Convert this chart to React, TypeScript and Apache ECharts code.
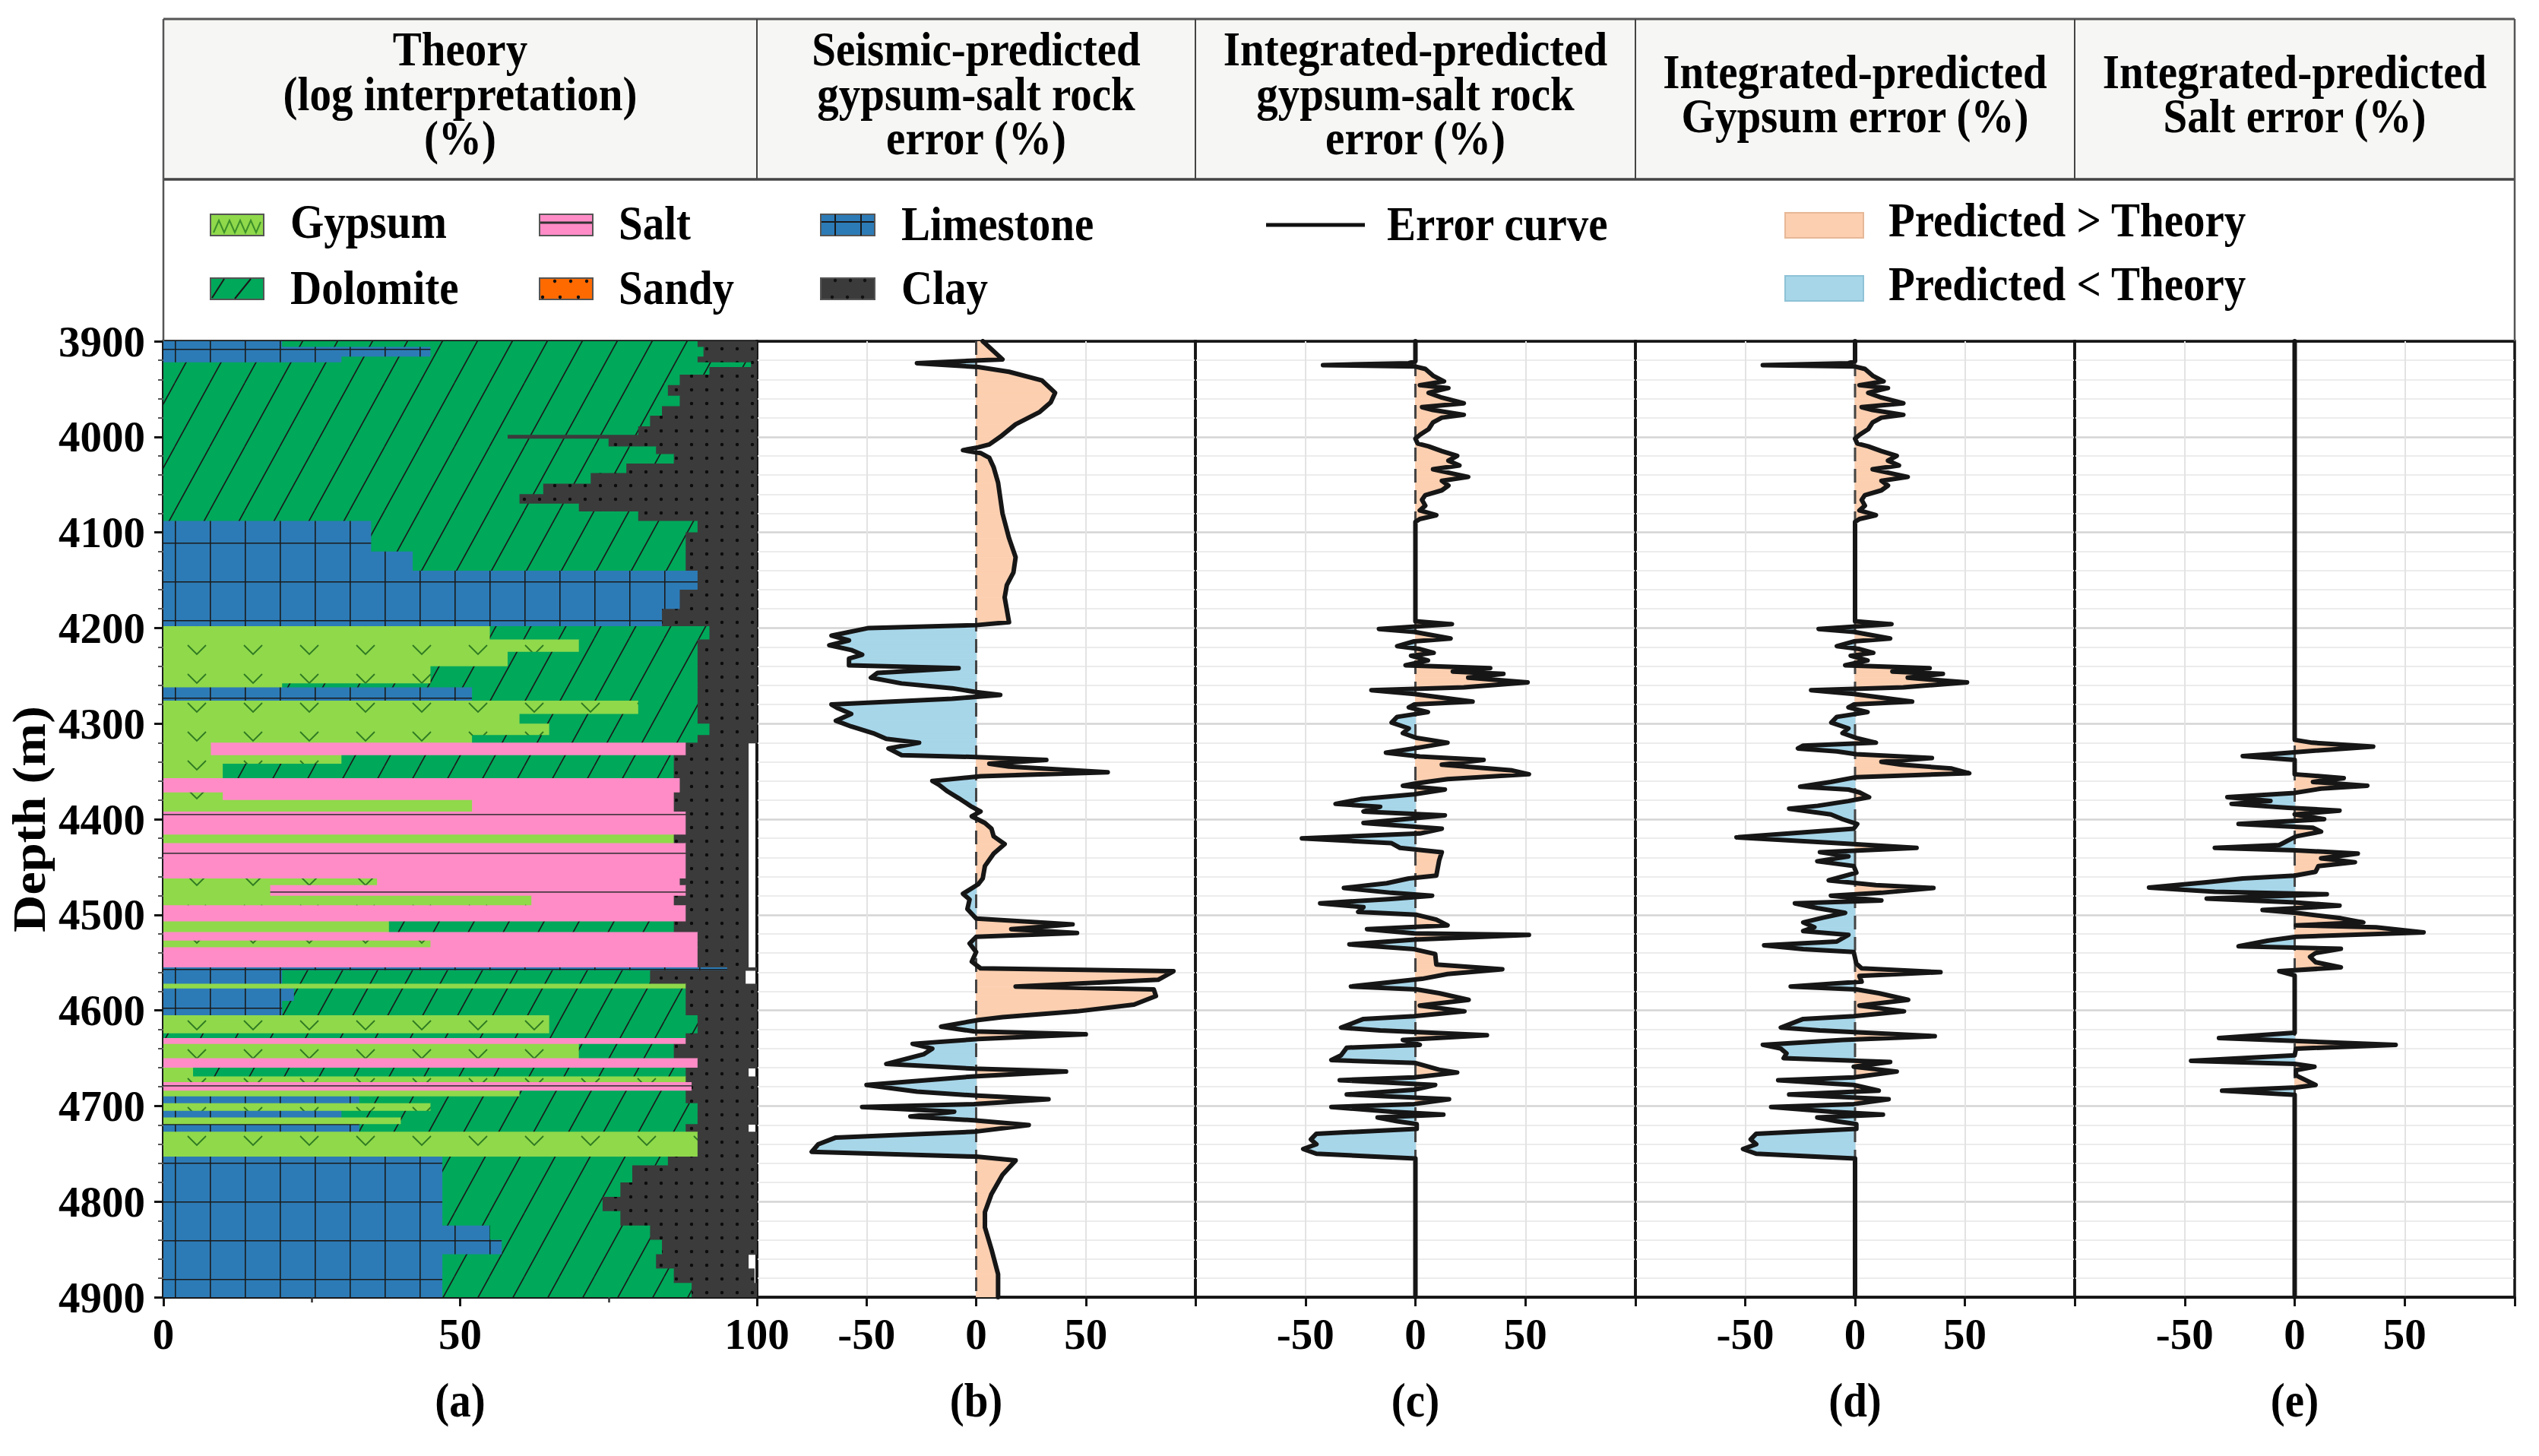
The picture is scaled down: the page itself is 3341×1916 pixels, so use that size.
import React, { useEffect, useRef } from "react";
import * as echarts from "echarts";

const FONT = "'Liberation Serif', 'Times New Roman', serif";

// ---------------- data ----------------
const depthMin = 3900;
const depthMax = 4900;
const depthStep = 100;

const lithologyNames = ["Limestone", "Gypsum", "Salt", "Dolomite", "Sandy", "Clay"];
const lithologyColors = ["#2c7bb6", "#8fd94b", "#ff8cc6", "#00a85a", "#ff6a00", "#3b3b3b"];

// [top, bottom, Limestone, Gypsum, Salt, Dolomite, Sandy, Clay]  (%)
const lithologyIntervals = [
  [3900, 3906, 20, 0, 0, 70, 0, 10],
  [3906, 3916, 45, 0, 0, 46, 0, 9],
  [3916, 3922, 30, 0, 0, 60, 0, 10],
  [3922, 3927, 0, 0, 0, 99, 0, 1],
  [3927, 3935, 0, 0, 0, 92, 0, 8],
  [3935, 3946, 0, 0, 0, 87, 0, 13],
  [3946, 3957, 0, 0, 0, 85, 0, 15],
  [3957, 3968, 0, 0, 0, 87, 0, 13],
  [3968, 3978, 0, 0, 0, 84, 0, 16],
  [3978, 3989, 0, 0, 0, 82, 0, 18],
  [3989, 3998, 0, 0, 0, 80, 0, 20],
  [3998, 4002, 0, 0, 0, 58, 0, 42],
  [4002, 4010, 0, 0, 0, 75, 0, 25],
  [4010, 4018, 0, 0, 0, 83, 0, 17],
  [4018, 4028, 0, 0, 0, 86, 0, 14],
  [4028, 4038, 0, 0, 0, 78, 0, 22],
  [4038, 4049, 0, 0, 0, 72, 0, 28],
  [4049, 4060, 0, 0, 0, 64, 0, 36],
  [4060, 4070, 0, 0, 0, 60, 0, 40],
  [4070, 4078, 0, 0, 0, 70, 0, 30],
  [4078, 4088, 0, 0, 0, 80, 0, 20],
  [4088, 4100, 35, 0, 0, 55, 0, 10],
  [4100, 4120, 35, 0, 0, 53, 0, 12],
  [4120, 4140, 42, 0, 0, 46, 0, 12],
  [4140, 4160, 90, 0, 0, 0, 0, 10],
  [4160, 4180, 87, 0, 0, 0, 0, 13],
  [4180, 4198, 84, 0, 0, 0, 0, 16],
  [4198, 4212, 0, 55, 0, 37, 0, 8],
  [4212, 4225, 0, 70, 0, 20, 0, 10],
  [4225, 4240, 0, 58, 0, 32, 0, 10],
  [4240, 4258, 0, 45, 0, 45, 0, 10],
  [4258, 4262, 0, 20, 0, 70, 0, 10],
  [4262, 4276, 52, 0, 0, 38, 0, 10],
  [4276, 4290, 0, 80, 0, 10, 0, 10],
  [4290, 4300, 0, 60, 0, 30, 0, 10],
  [4300, 4312, 0, 65, 0, 27, 0, 8],
  [4312, 4320, 0, 52, 0, 38, 0, 10],
  [4320, 4333, 0, 8, 80, 0, 0, 10.5],
  [4333, 4342, 0, 30, 0, 56, 0, 12.5],
  [4342, 4357, 0, 10, 0, 76, 0, 12.5],
  [4357, 4372, 0, 0, 87, 0, 0, 11.5],
  [4372, 4380, 0, 10, 76, 0, 0, 12.5],
  [4380, 4392, 0, 52, 34, 0, 0, 12.5],
  [4392, 4416, 0, 0, 88, 0, 0, 10.5],
  [4416, 4425, 0, 86, 0, 0, 0, 12.5],
  [4425, 4462, 0, 0, 88, 0, 0, 10.5],
  [4462, 4469, 0, 36, 51, 0, 0, 11.5],
  [4469, 4480, 0, 18, 70, 0, 0, 10.5],
  [4480, 4490, 0, 62, 24, 0, 0, 12.5],
  [4490, 4507, 0, 0, 88, 0, 0, 10.5],
  [4507, 4518, 0, 38, 0, 48, 0, 12.5],
  [4518, 4527, 0, 0, 90, 0, 0, 8.5],
  [4527, 4534, 0, 45, 45, 0, 0, 8.5],
  [4534, 4555, 0, 0, 90, 0, 0, 8.5],
  [4555, 4558, 95, 0, 0, 0, 0, 5],
  [4558, 4572, 20, 0, 0, 62, 0, 16],
  [4572, 4577, 0, 88, 0, 0, 0, 12],
  [4577, 4590, 22, 0, 0, 66, 0, 12],
  [4590, 4605, 20, 0, 0, 68, 0, 12],
  [4605, 4624, 0, 65, 0, 25, 0, 10],
  [4624, 4629, 0, 0, 0, 88, 0, 12],
  [4629, 4635, 0, 0, 88, 0, 0, 12],
  [4635, 4650, 0, 70, 0, 16, 0, 14],
  [4650, 4660, 0, 0, 90, 0, 0, 10],
  [4660, 4669, 0, 5, 0, 83, 0, 10.5],
  [4669, 4675, 0, 88, 0, 0, 0, 12],
  [4675, 4684, 0, 0, 89, 0, 0, 11],
  [4684, 4690, 0, 60, 0, 28, 0, 12],
  [4690, 4697, 33, 0, 0, 55, 0, 12],
  [4697, 4705, 0, 45, 0, 45, 0, 10],
  [4705, 4712, 30, 0, 0, 60, 0, 10],
  [4712, 4719, 0, 40, 0, 50, 0, 10],
  [4719, 4727, 33, 0, 0, 55, 0, 10.5],
  [4727, 4753, 0, 90, 0, 0, 0, 10],
  [4753, 4762, 47, 0, 0, 38, 0, 15],
  [4762, 4780, 47, 0, 0, 32, 0, 21],
  [4780, 4795, 47, 0, 0, 30, 0, 23],
  [4795, 4810, 47, 0, 0, 27, 0, 26],
  [4810, 4825, 47, 0, 0, 30, 0, 23],
  [4825, 4840, 55, 0, 0, 27, 0, 18],
  [4840, 4855, 57, 0, 0, 27, 0, 16],
  [4855, 4870, 47, 0, 0, 36, 0, 15.5],
  [4870, 4885, 47, 0, 0, 39, 0, 13.5],
  [4885, 4900, 47, 0, 0, 42, 0, 11],
];

// [depth (m), error (%)]
const seismicError = [
  [3900, 3], [3919, 12], [3923, -27], [3927, 1], [3932, 15], [3941, 30], [3954, 36], [3964, 34],
  [3974, 29], [3987, 18], [4000, 11], [4008, 6], [4011, 1], [4014, -6], [4017, 2], [4022, 6],
  [4032, 8], [4048, 10], [4080, 12], [4106, 15], [4126, 18], [4142, 17], [4155, 14], [4168, 13],
  [4194, 15], [4197, 0], [4200, -49], [4208, -66], [4213, -58], [4218, -67], [4223, -57], [4228, -52],
  [4232, -58], [4239, -58], [4242, -8], [4247, -45], [4252, -48], [4258, -34], [4263, -11], [4267, 0],
  [4270, 11], [4274, -11], [4280, -66], [4284, -63], [4290, -57], [4297, -64], [4303, -57], [4310, -47],
  [4316, -41], [4320, -26], [4326, -40], [4333, -34], [4335, 0], [4338, 32], [4342, 6], [4345, 15],
  [4351, 60], [4355, 2], [4360, -20], [4364, -17], [4371, -13], [4378, -8], [4387, -2], [4392, 2],
  [4397, -2], [4404, 4], [4410, 7], [4418, 8], [4426, 13], [4436, 8], [4449, 4], [4462, 3],
  [4468, 1], [4478, -6], [4484, -3], [4494, -4], [4504, 0], [4510, 44], [4515, 16], [4519, 46],
  [4523, 0], [4530, -3], [4539, 0], [4549, -2], [4556, 2], [4559, 90], [4568, 83], [4575, 18],
  [4578, 81], [4585, 82], [4594, 72], [4601, 46], [4607, 12], [4610, 1], [4617, -16], [4622, -1],
  [4625, 50], [4630, 1], [4635, -29], [4640, -20], [4646, -24], [4656, -41], [4661, -1], [4664, 41],
  [4669, -1], [4678, -50], [4685, -27], [4689, -1], [4693, 33], [4698, -1], [4701, -52], [4706, -10],
  [4711, -30], [4715, -1], [4720, 24], [4727, -1], [4733, -64], [4740, -72], [4748, -75], [4753, 0],
  [4757, 18], [4772, 12], [4792, 7], [4811, 4], [4827, 4], [4850, 7], [4876, 10], [4900, 10],
];

const integratedError = [
  [3900, 0], [3921, 0], [3923, -3], [3925, -42], [3926.5, 0], [3929, 4.5], [3936, 8], [3942, 13],
  [3946, 2], [3949, 15], [3954, 6], [3959, 12], [3965, 22], [3969, 3], [3972, 8], [3977, 22],
  [3980, 12], [3985, 8], [3992, 6], [3998, 2], [4002, 0], [4007, 1], [4010, 6], [4015, 12],
  [4020, 19], [4025, 15], [4030, 20], [4034, 8], [4038, 16], [4042, 24], [4046, 12], [4051, 15],
  [4056, 12], [4061, 4.5], [4066, 3], [4072, 4.5], [4077, 2], [4082, 9.5], [4086, 2], [4089, 0],
  [4193, 0], [4196, 16.6], [4201, -16.6], [4204, -0.6], [4211, 16], [4214, -0.6], [4219, -8.3], [4222, 2],
  [4226, 8.3], [4229, -2], [4234, 5.7], [4239, -4.5], [4242, 34], [4245.5, 17], [4248, 40], [4252, 24],
  [4257, 51], [4262, 22], [4265, -20], [4269, -0.6], [4277, 26], [4280, -0.6], [4283, -3], [4288, 5.7],
  [4293, -8.3], [4299, -10.8], [4305, -3], [4310, -5.7], [4315, 0.6], [4320, 14.6], [4325, 2], [4330.5, -13.4],
  [4334.5, 2], [4338, 31], [4343, 12], [4349, 44], [4353, 51.6], [4358, 14.6], [4362.5, 0.6], [4365, -5.7],
  [4369, 13.4], [4374, -0.6], [4379, -24.8], [4384, -36.3], [4387, -16], [4392, -23.6], [4396, 13.4], [4404, -23.6],
  [4410, 12], [4415, 2], [4420, -51.6], [4425, -11], [4430, -7], [4434.5, 12], [4443, 10.8], [4459, 9.5],
  [4462, -3], [4467, -13], [4472, -32.5], [4477, -11], [4480, 7.6], [4483.5, -11], [4488, -43.3], [4492, -23.6],
  [4497, -26], [4500, 0.6], [4505, 9.5], [4511, 14.6], [4515, -22], [4519.5, -0.6], [4521, 51.6], [4526, -0.6],
  [4531, -30], [4536, -0.6], [4541, 9], [4552, 9.5], [4557, 39.5], [4562, 14.6], [4567, 3], [4575, -29.3],
  [4578, 0.6], [4582, 10.8], [4589, 24.2], [4595, 2], [4601, 22.3], [4606, -0.6], [4609, -23.6], [4618, -33.8],
  [4621, -16], [4626, 32.5], [4631, -5.7], [4636, 2], [4639, -31.2], [4647, -33.8], [4652, -38.2], [4655, 0],
  [4662, 10.8], [4665, 19], [4670, -0.6], [4673, -34.4], [4678, 9], [4683, -0.6], [4688, -31.2], [4693, 15.3],
  [4698, -0.6], [4701, -38.2], [4706, -10.8], [4709, 12.7], [4712, -17.2], [4716, -8.3], [4719, 0.6], [4724, 0.6],
  [4729, -45], [4735, -47.5], [4740, -45], [4745, -51], [4750, -45], [4755, 0], [4900, 0],
];

const gypsumError = [
  [3900, 0], [3921, 0], [3923, -3], [3925, -42], [3926.5, 0], [3929, 4.5], [3936, 8], [3942, 13],
  [3946, 2], [3949, 15], [3954, 6], [3959, 12], [3965, 22], [3969, 3], [3972, 8], [3977, 22],
  [3980, 12], [3985, 8], [3992, 6], [3998, 2], [4002, 0], [4007, 1], [4010, 6], [4015, 12],
  [4020, 19], [4025, 15], [4030, 20], [4034, 8], [4038, 16], [4042, 24], [4046, 12], [4051, 15],
  [4056, 12], [4061, 4.5], [4066, 3], [4072, 4.5], [4077, 2], [4082, 9.5], [4086, 2], [4089, 0],
  [4193, 0], [4196, 16.6], [4201, -16.6], [4204, -0.6], [4211, 16], [4214, -0.6], [4219, -8.3], [4222, 2],
  [4226, 8.3], [4229, -2], [4234, 5.7], [4239, -4.5], [4242, 34], [4245.5, 17], [4248, 40], [4252, 24],
  [4257, 51], [4262, 22], [4265, -20], [4269, -0.6], [4277, 26], [4280, -0.6], [4283, -3], [4288, 5.7],
  [4293, -8.3], [4299, -10.8], [4305, -3], [4310, -5.7], [4315, 0.6], [4320, 9.5], [4323, -23.6], [4326, -26],
  [4329, -8.3], [4332, 0.6], [4336, 35], [4340, 12], [4343, 21], [4347, 44], [4352, 52], [4356, 0.6],
  [4361, -11], [4366, -25], [4369, -3], [4372, 2], [4377, 6.4], [4381, -3], [4386, -17], [4389, -30],
  [4395, -11], [4400, -5.7], [4405, 1], [4410, -0.6], [4419, -54], [4424.7, -11], [4430, 28], [4434.5, -16],
  [4439, -3], [4444, -17.2], [4449, -0.6], [4456, 0.6], [4464, -12], [4469, 9.5], [4472, 35.7], [4477, 12],
  [4480, -11], [4485, 12], [4488, -27.4], [4493, -17.2], [4498, -4.5], [4503, -14.6], [4508, -23.6], [4513, -18.5],
  [4517, -23.6], [4521, -3], [4528, -8.3], [4532, -41.4], [4536, -23.6], [4539, -0.6], [4551, 0.6], [4556, 3],
  [4560, 38.9], [4564, 2], [4570, 3], [4575, -29.3], [4578, 0.6], [4582, 10.8], [4589, 24.2], [4595, 2],
  [4601, 22.3], [4606, -0.6], [4609, -23.6], [4618, -33.8], [4621, -16], [4627, 36.3], [4631, -5.7], [4636, -42],
  [4640, -33.8], [4645, -31.2], [4650, -32.5], [4654, 16], [4659, -0.6], [4664, 19], [4670, -0.6], [4673, -35],
  [4678, -0.6], [4684, 10.8], [4688, -30], [4693, 15.3], [4698, -0.6], [4701, -38.2], [4706, -10.8], [4709, 12.7],
  [4712, -17.2], [4716, -8.3], [4719, 0.6], [4724, 0.6], [4729, -45], [4735, -47.5], [4740, -45], [4745, -51],
  [4750, -45], [4755, 0], [4900, 0],
];

const saltError = [
  [3900, 0], [4317, 0], [4320, 8], [4324, 35.7], [4328, 11], [4331, -5.7], [4334, -23.6], [4338, 0],
  [4353, 0], [4357, 22.3], [4361, 8.3], [4365, 33], [4368, 12], [4372.5, 0], [4377, -30.6], [4381, -11],
  [4384, -28.7], [4388, -3], [4391, 20.4], [4395, 0], [4400, 13.4], [4405, -25.5], [4409, 8.3], [4413, 12],
  [4418, 0.6], [4427, -7], [4430, -36.3], [4432.5, 0.6], [4436, 28.7], [4441, 12], [4445, 27.4], [4449, 10.8],
  [4455, 9.5], [4459, 0], [4462, -23.6], [4466, -40], [4471.5, -66.2], [4476, -36.3], [4478.5, 14.6], [4483, -40],
  [4487, 0], [4490.5, 20.4], [4495, -14.6], [4498, 0.6], [4503.6, 21], [4508, 31.2], [4511, 0.6], [4513, 37],
  [4518.4, 58.6], [4523, 0.6], [4527, -12], [4533, -25.5], [4535.6, 21], [4540, 9.5], [4544, 7], [4549.6, 9.5],
  [4555, 21], [4559, -7], [4563.5, 0], [4623.4, 0], [4629, -34.4], [4632, 0], [4636, 45.9], [4640, 0.6],
  [4647, 0], [4652.7, -47.1], [4656, 0], [4659, 9], [4662.5, 0.6], [4668, 0.6], [4678, 9.5], [4680.6, 0.6],
  [4684, -33], [4688.4, 0], [4900, 0],
];

const panelTitles = [
  "Theory\n(log interpretation)\n(%)",
  "Seismic-predicted\ngypsum-salt rock\nerror (%)",
  "Integrated-predicted\ngypsum-salt rock\nerror (%)",
  "Integrated-predicted\nGypsum error (%)",
  "Integrated-predicted\nSalt error (%)",
];
const panelLabels = ["(a)", "(b)", "(c)", "(d)", "(e)"];
const errorCurves = [seismicError, integratedError, gypsumError, saltError];
const POS_FILL = "#fccfb0";
const NEG_FILL = "#a7d6e9";

// ---------------- layout ----------------
const W = 3341;
const H = 1916;
const COLS = [215, 996, 1573, 2152, 2730, 3309];
const PLOT_TOP = 449;
const PLOT_H = 1258;
const TEXT_SCALE_Y = 1.12;

function makePattern(kind: number): any {
  const sizes = [[46, 51], [74, 38], [60, 51], [46, 84], [20, 18], [20, 18]];
  const [w, h] = sizes[kind];
  const c = document.createElement("canvas");
  c.width = w;
  c.height = h;
  const g = c.getContext("2d") as CanvasRenderingContext2D;
  g.fillStyle = lithologyColors[kind];
  g.fillRect(0, 0, w, h);
  g.beginPath();
  if (kind === 0) {
    g.strokeStyle = "#1b1b1b";
    g.lineWidth = 1.6;
    g.moveTo(0.8, 0); g.lineTo(0.8, h);
    g.moveTo(0, 0.8); g.lineTo(w, 0.8);
    g.stroke();
  } else if (kind === 1) {
    g.strokeStyle = "#2f7a22";
    g.lineWidth = 1.8;
    g.moveTo(w / 2 - 12, h / 2 - 6); g.lineTo(w / 2, h / 2 + 6); g.lineTo(w / 2 + 12, h / 2 - 6);
    g.stroke();
  } else if (kind === 2) {
    g.strokeStyle = "#4a3a44";
    g.lineWidth = 1.8;
    g.moveTo(0, 0.9); g.lineTo(w, 0.9);
    g.stroke();
  } else if (kind === 3) {
    g.strokeStyle = "#1a1a1a";
    g.lineWidth = 1.6;
    for (let k = -1; k <= 1; k++) { g.moveTo(k * w, h); g.lineTo(k * w + w, 0); }
    g.stroke();
  } else {
    g.fillStyle = "#0c0c0c";
    g.arc(w / 2, h / 2, 2.2, 0, Math.PI * 2);
    g.fill();
  }
  return { image: c, repeat: "repeat", imageWidth: w, imageHeight: h, x: COLS[0], y: PLOT_TOP };
}

function buildOption(): any {
  const patterns = lithologyNames.map((_, k) => makePattern(k));

  const lithoRects: number[][] = [];
  lithologyIntervals.forEach((row) => {
    const [top, bottom] = row;
    let cum = 0;
    row.slice(2).forEach((v, k) => {
      if (v > 0) {
        lithoRects.push([cum, top, cum + v, bottom, k]);
        cum += v;
      }
    });
  });

  const grids = COLS.slice(0, 5).map((l, i) => ({
    left: l, top: PLOT_TOP, width: COLS[i + 1] - l, height: PLOT_H,
    show: true, borderColor: "#151515", borderWidth: 3.5, backgroundColor: "transparent",
  }));

  const labelFont = { fontSize: 57, fontWeight: "bold", fontFamily: FONT, color: "#000" };
  const GRID_X = "#e3e3e3";
  const GRID_Y = "#d4d4d4";
  const EDGE = "#151515";

  const xAxes = grids.map((_, i) => i === 0 ? {
    gridIndex: 0, type: "value", min: 0, max: 100, interval: 50,
    axisLine: { show: true, onZero: false, lineStyle: { color: EDGE, width: 3.5 } },
    axisTick: { show: true, length: 12, lineStyle: { color: EDGE, width: 3 } },
    minorTick: { show: true, splitNumber: 2, length: 7, lineStyle: { color: "#333", width: 2.5 } },
    axisLabel: { ...labelFont, margin: 20 },
    splitLine: { show: false },
  } : {
    gridIndex: i, type: "value", min: -100, max: 100, interval: 50,
    axisLine: { show: true, onZero: false, lineStyle: { color: EDGE, width: 3.5 } },
    axisTick: { show: true, length: 12, lineStyle: { color: EDGE, width: 3 } },
    axisLabel: { ...labelFont, margin: 20, formatter: (v: number) => (Math.abs(v) === 100 ? "" : String(v)) },
    splitLine: { show: true, lineStyle: { color: [EDGE, GRID_X, GRID_X, GRID_X], width: 2 } },
  });

  const yGridColors = [EDGE, GRID_Y, GRID_Y, GRID_Y, GRID_Y, GRID_Y, GRID_Y, GRID_Y, GRID_Y, GRID_Y];
  const yAxes = grids.map((_, i) => i === 0 ? {
    gridIndex: 0, type: "value", min: depthMin, max: depthMax, interval: depthStep, inverse: true,
    axisLine: { show: true, onZero: false, lineStyle: { color: EDGE, width: 3.5 } },
    axisTick: { show: true, length: 12, lineStyle: { color: EDGE, width: 3 } },
    minorTick: { show: true, splitNumber: 5, length: 7, lineStyle: { color: "#555", width: 2 } },
    axisLabel: { ...labelFont, margin: 24, formatter: (v: number) => String(v) },
    splitLine: { show: false },
  } : {
    gridIndex: i, type: "value", min: depthMin, max: depthMax, interval: depthStep, inverse: true,
    axisLine: { show: false },
    axisTick: { show: false },
    axisLabel: { show: false },
    minorTick: { show: false, splitNumber: 5 },
    splitLine: { show: true, lineStyle: { color: yGridColors, width: 2.5 } },
    minorSplitLine: { show: true, lineStyle: { color: "#ececec", width: 2 } },
  });

  const series: any[] = [{
    type: "custom", xAxisIndex: 0, yAxisIndex: 0, clip: true, z: 2,
    data: lithoRects,
    encode: { x: [0, 2], y: [1, 3] },
    renderItem: (_p: any, api: any) => {
      const p0 = api.coord([api.value(0), api.value(1)]);
      const p1 = api.coord([api.value(2), api.value(3)]);
      const k = api.value(4);
      return {
        type: "rect",
        shape: { x: p0[0], y: p0[1], width: p1[0] - p0[0] + 0.8, height: p1[1] - p0[1] + 0.8 },
        style: { fill: patterns[k] },
      };
    },
  }];

  const fillRender = (_p: any, api: any) => {
    const x0 = api.value(0), d0 = api.value(1), x1 = api.value(2), d1 = api.value(3);
    const polys: any[] = [];
    const add = (pts: number[][], sign: number) => {
      if (!sign) return;
      const c = sign > 0 ? POS_FILL : NEG_FILL;
      polys.push({ type: "polygon", shape: { points: pts.map((p) => api.coord(p)) }, style: { fill: c, stroke: c, lineWidth: 0.8 } });
    };
    if (x0 * x1 >= 0) {
      add([[0, d0], [x0, d0], [x1, d1], [0, d1]], Math.sign(x0 + x1));
    } else {
      const t = x0 / (x0 - x1);
      const dz = d0 + t * (d1 - d0);
      add([[0, d0], [x0, d0], [0, dz]], Math.sign(x0));
      add([[0, dz], [x1, d1], [0, d1]], Math.sign(x1));
    }
    return { type: "group", children: polys };
  };

  errorCurves.forEach((curve, idx) => {
    const gi = idx + 1;
    const segs: number[][] = [];
    for (let i = 0; i < curve.length - 1; i++) {
      segs.push([curve[i][1], curve[i][0], curve[i + 1][1], curve[i + 1][0]]);
    }
    series.push({
      type: "custom", xAxisIndex: gi, yAxisIndex: gi, clip: true, z: 2,
      data: segs, encode: { x: [0, 2], y: [1, 3] }, renderItem: fillRender,
    });
    series.push({
      type: "line", xAxisIndex: gi, yAxisIndex: gi, z: 3, showSymbol: false, silent: true,
      data: [[0, depthMin], [0, depthMax]],
      lineStyle: { color: "#444", width: 3, type: [18, 10] },
    });
    series.push({
      type: "line", xAxisIndex: gi, yAxisIndex: gi, z: 4, showSymbol: false, silent: true, clip: true,
      data: curve.map((p) => [p[1], p[0]]),
      lineStyle: { color: "#161616", width: 6, join: "round", cap: "round" },
    });
  });

  // ---------- graphics: header, legend, labels ----------
  const txt = (text: string, x: number, y: number, opts: any = {}) => ({
    type: "text", x, y, z: 100, rotation: opts.rotation || 0,
    scaleX: opts.rotation ? TEXT_SCALE_Y : 1, scaleY: opts.rotation ? 1 : TEXT_SCALE_Y,
    style: {
      text, fill: "#000", fontSize: opts.fontSize || 57, fontWeight: "bold", fontFamily: FONT,
      textAlign: opts.align || "left", align: opts.align || "left",
      textVerticalAlign: "middle", verticalAlign: "middle", lineHeight: opts.lineHeight || 52,
    },
  });
  const line = (x1: number, y1: number, x2: number, y2: number, stroke: string, w: number) => ({
    type: "line", z: 100, shape: { x1, y1, x2, y2 }, style: { stroke, lineWidth: w },
  });
  const rect = (x: number, y: number, w: number, h: number, fill: string, stroke = "#555") => ({
    type: "rect", z: 100, shape: { x, y, width: w, height: h }, style: { fill, stroke, lineWidth: 2 },
  });
  const dot = (x: number, y: number) => ({ type: "circle", z: 101, shape: { cx: x, cy: y, r: 2.2 }, style: { fill: "#111" } });

  const elements: any[] = [];
  elements.push({ type: "rect", z: 99, shape: { x: COLS[0], y: 25, width: COLS[5] - COLS[0], height: 211 }, style: { fill: "#f6f6f4" } });
  elements.push(line(COLS[0], 25, COLS[5], 25, "#555", 3));
  elements.push(line(COLS[0], 236, COLS[5], 236, "#444", 3.5));
  elements.push(line(COLS[0], 25, COLS[0], PLOT_TOP, "#555", 2.5));
  elements.push(line(COLS[5], 25, COLS[5], PLOT_TOP, "#555", 2.5));
  for (let i = 1; i < 5; i++) elements.push(line(COLS[i], 25, COLS[i], 236, "#444", 2));
  panelTitles.forEach((t, i) => elements.push(txt(t, (COLS[i] + COLS[i + 1]) / 2, 123, { align: "center" })));
  panelLabels.forEach((t, i) => elements.push(txt(t, (COLS[i] + COLS[i + 1]) / 2, 1842, { align: "center" })));
  elements.push(txt("Depth (m)", 38, PLOT_TOP + PLOT_H / 2, { align: "center", rotation: Math.PI / 2, fontSize: 61 }));

  // legend swatches
  elements.push(rect(277, 282, 70, 28, lithologyColors[1]));
  elements.push({
    type: "polyline", z: 101,
    shape: { points: [[281, 306], [288, 290], [295, 306], [302, 290], [309, 306], [316, 290], [323, 306], [330, 290], [337, 306], [343, 292]] },
    style: { stroke: "#3d8f2a", lineWidth: 2, fill: null },
  });
  elements.push(rect(277, 366, 70, 28, lithologyColors[3]));
  elements.push(line(279, 392, 295, 367, "#1a1a1a", 2));
  elements.push(line(309, 393, 330, 367, "#1a1a1a", 2));
  elements.push(rect(710, 282, 70, 28, lithologyColors[2]));
  elements.push(line(711, 293, 779, 293, "#333", 3));
  elements.push(rect(710, 366, 70, 28, lithologyColors[4]));
  [730, 751, 772].forEach((x) => elements.push(dot(x, 370)));
  [714, 737, 761].forEach((x) => elements.push(dot(x, 391)));
  elements.push(rect(1080, 282, 71, 28, lithologyColors[0]));
  elements.push(line(1081, 292, 1150, 292, "#1a1a1a", 2));
  elements.push(line(1099, 282, 1099, 310, "#1a1a1a", 2));
  elements.push(line(1133, 282, 1133, 310, "#1a1a1a", 2));
  elements.push(rect(1080, 366, 71, 28, lithologyColors[5]));
  [1099, 1119, 1138].forEach((x) => elements.push(dot(x, 369)));
  [1095, 1115, 1135].forEach((x) => elements.push(dot(x, 391)));
  elements.push(line(1666, 296, 1796, 296, "#111", 5));
  elements.push(rect(2349, 280, 103, 33, POS_FILL, "#e6b898"));
  elements.push(rect(2349, 363, 103, 33, NEG_FILL, "#8ec2d6"));

  elements.push(txt("Gypsum", 382, 291));
  elements.push(txt("Dolomite", 382, 378));
  elements.push(txt("Salt", 814, 293));
  elements.push(txt("Sandy", 814, 378));
  elements.push(txt("Limestone", 1186, 294));
  elements.push(txt("Clay", 1186, 378));
  elements.push(txt("Error curve", 1825, 294));
  elements.push(txt("Predicted > Theory", 2485, 289));
  elements.push(txt("Predicted < Theory", 2485, 373));

  return {
    animation: false,
    backgroundColor: "#ffffff",
    grid: grids,
    xAxis: xAxes,
    yAxis: yAxes,
    series,
    graphic: { elements },
  };
}

export default function App() {
  const ref = useRef<HTMLDivElement | null>(null);
  useEffect(() => {
    document.body.style.margin = "0";
    document.body.style.overflow = "hidden";
    if (!ref.current) return;
    const chart = echarts.init(ref.current, undefined, { renderer: "svg" });
    chart.setOption(buildOption());
    return () => chart.dispose();
  }, []);
  return (
    <div
      ref={ref}
      style={{ position: "absolute", left: 0, top: 0, width: W, height: H, background: "#fff" }}
    />
  );
}
